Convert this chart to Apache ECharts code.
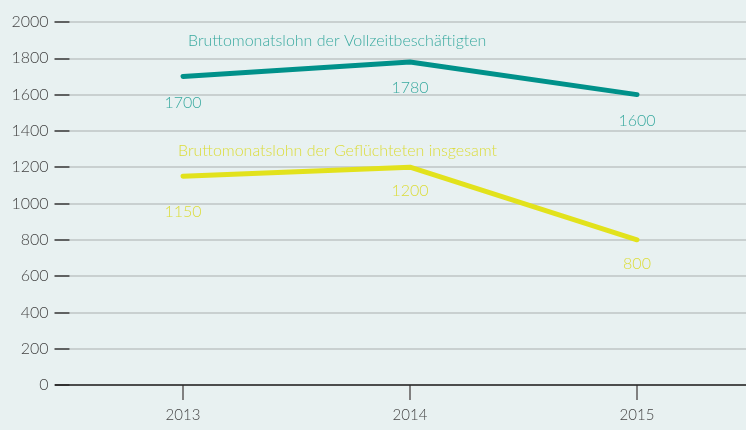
<!DOCTYPE html>
<html><head><meta charset="utf-8">
<script src="https://cdn.jsdelivr.net/npm/echarts@6/dist/echarts.min.js"></script>
<style>html,body{margin:0;padding:0;background:#e8f1f1;}#c{width:746px;height:430px;}</style>
</head><body><div id="c"></div>
<script>
const categories = ['2013', '2014', '2015'];
const vollzeit = [1700, 1780, 1600];
const gefluechtete = [1150, 1200, 800];
const yTicks = [0, 200, 400, 600, 800, 1000, 1200, 1400, 1600, 1800, 2000];
const seriesNames = ['Bruttomonatslohn der Vollzeitbeschäftigten', 'Bruttomonatslohn der Geflüchteten insgesamt'];

const font = 'Lato, "Open Sans", sans-serif';
const chart = echarts.init(document.getElementById('c'));
chart.setOption({
  backgroundColor: '#e8f1f1',
  animation: false,
  grid: { left: 69.5, top: 22, width: 681, height: 363, outerBoundsMode: 'none', containLabel: false },
  xAxis: {
    type: 'category', data: categories, boundaryGap: true,
    axisLine: { show: false },
    axisTick: { show: true, alignWithLabel: true, length: 15, lineStyle: { color: '#808080', width: 2 } },
    axisLabel: { color: '#444', fontSize: 15, fontWeight: 300, fontFamily: font, margin: 23 }
  },
  yAxis: {
    type: 'value', min: yTicks[0], max: yTicks[yTicks.length - 1], interval: 200,
    axisLine: { show: false },
    axisTick: { show: true, length: 15, lineStyle: { color: '#333', width: 1.5 } },
    axisLabel: { color: '#444', fontSize: 16, fontWeight: 300, fontFamily: font, margin: 21, formatter: v => String(v) },
    splitLine: { show: true, lineStyle: { color: '#bfc4c5', width: 1.5 } }
  },
  series: [
    {
      name: seriesNames[0], type: 'line', data: vollzeit, symbol: 'circle', symbolSize: 2, showSymbol: true,
      itemStyle: { color: '#00918a' },
      lineStyle: { color: '#00918a', width: 5, cap: 'round' },
      label: { show: true, position: 'bottom', distance: 17, color: '#3aaaa0', fontSize: 16, fontWeight: 300, fontFamily: font },
      z: 3
    },
    {
      name: seriesNames[1], type: 'line',
      data: gefluechtete.map((v, i) => i === 0 ? { value: v, label: { distance: 27 } } : v),
      symbol: 'circle', symbolSize: 2, showSymbol: true,
      itemStyle: { color: '#e2e21c' },
      lineStyle: { color: '#e2e21c', width: 5, cap: 'round' },
      label: { show: true, position: 'bottom', distance: 15, color: '#dcdc3a', fontSize: 16, fontWeight: 300, fontFamily: font },
      z: 3
    },
    {
      type: 'line', data: [], markLine: {
        silent: true, symbol: 'none', label: { show: false },
        lineStyle: { color: '#222', width: 1.5, type: 'solid' },
        data: [[{ x: 55, yAxis: 0 }, { x: 746, yAxis: 0 }]]
      }
    }
  ],
  graphic: [
    { type: 'text', left: 188, top: 33, style: { text: seriesNames[0], fill: '#3aaaa0', fontSize: 16, fontWeight: 300, fontFamily: font } },
    { type: 'text', left: 178, top: 143, style: { text: seriesNames[1], fill: '#dcdc3a', fontSize: 16, fontWeight: 300, fontFamily: font } }
  ]
});
</script></body></html>
